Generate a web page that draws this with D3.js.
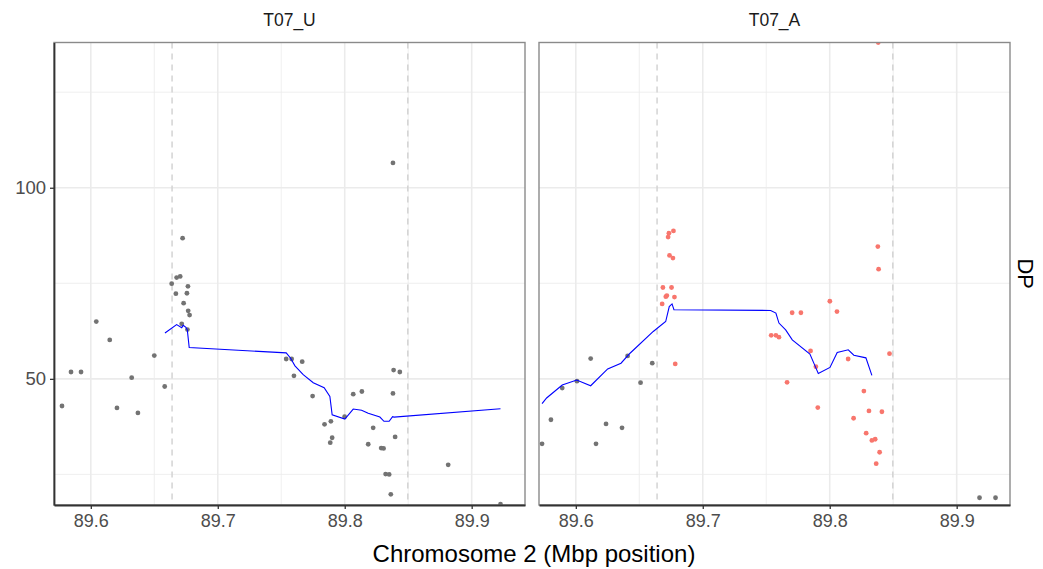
<!DOCTYPE html>
<html>
<head>
<meta charset="utf-8">
<script src="https://cdn.jsdelivr.net/npm/d3@7/dist/d3.min.js"></script>
<style>
  body { margin: 0; background: #fff; }
  text { font-family: "Liberation Sans", Arial, Helvetica, sans-serif; }
</style>
</head>
<body>
<div id="chart"></div>
<script>
// facets and axes
var facets = ["T07_U", "T07_A"];
var xTicks = [89.6, 89.7, 89.8, 89.9];
var xMinor = [89.65, 89.75, 89.85];
var yTicks = [50, 100];
var yMinor = [25, 75, 125];
var regionBounds = [89.664, 89.8497];

// T07_U points (Mbp, DP)
var uPos = [89.5773, 89.5844, 89.5923, 89.6043, 89.6149, 89.6206, 89.6322, 89.6371, 89.6500, 89.6582,
            89.6637, 89.6723, 89.6676, 89.6704, 89.6765, 89.6670, 89.6757, 89.6731, 89.6767, 89.6778,
            89.6716, 89.6761, 89.7539, 89.7582, 89.7665, 89.7600, 89.7747, 89.7841, 89.7891, 89.7901,
            89.7886, 89.7999, 89.8067, 89.8135, 89.8224, 89.8185, 89.8287, 89.8306, 89.8380, 89.8385,
            89.8434, 89.8397, 89.8322, 89.8350, 89.8363, 89.8815, 89.9227, 89.8380];
var uDP  = [42.9, 51.8, 51.8, 65.0, 60.2, 42.4, 50.3, 41.1, 56.1, 48.0,
            74.9, 86.8, 76.5, 76.8, 74.2, 72.3, 72.4, 69.8, 67.8, 66.7,
            64.4, 62.9, 55.2, 55.2, 54.5, 50.8, 45.5, 38.1, 38.9, 34.6,
            33.3, 40.1, 46.0, 46.7, 37.2, 32.9, 31.9, 31.8, 46.2, 52.3,
            51.8, 34.8, 25.1, 25.0, 19.8, 27.5, 17.2, 106.5];

// T07_A points (Mbp, DP)
var aPos = [89.5734, 89.5804, 89.5893, 89.6009, 89.6117, 89.6159, 89.6238, 89.6364, 89.6408, 89.6510,
            89.6602, 89.9180, 89.9306,
            89.6727, 89.6733, 89.6769, 89.6738, 89.6765, 89.6686, 89.6754, 89.6709, 89.6717, 89.6777,
            89.6680, 89.6783, 89.7539, 89.7576, 89.7600, 89.7704, 89.7773, 89.8001, 89.8057, 89.7849,
            89.7891, 89.7664, 89.7906, 89.8145, 89.8471, 89.8269, 89.8309, 89.8411, 89.8188, 89.8287,
            89.8332, 89.8358, 89.8393, 89.8366, 89.8379, 89.8385, 89.8382];
var aDP  = [33.0, 39.3, 47.6, 49.4, 55.3, 33.0, 38.2, 37.2, 56.0, 49.0,
            54.1, 18.9, 18.9,
            87.1, 88.1, 88.7, 82.3, 81.6, 73.9, 73.9, 71.5, 71.8, 71.4,
            69.6, 53.9, 61.4, 61.4, 60.9, 67.3, 67.3, 70.3, 67.6, 57.3,
            53.2, 49.1, 42.5, 55.2, 56.6, 46.8, 41.6, 41.4, 39.7, 35.8,
            33.9, 34.2, 30.8, 27.8, 84.6, 78.7, 138.0];

// smoothed lines
var uLinePos = [89.6584, 89.6676, 89.6716, 89.6728, 89.6749, 89.6760, 89.6775, 89.7539, 89.7574, 89.7608,
                89.7673, 89.7752, 89.7838, 89.7883, 89.7901, 89.8001, 89.8067, 89.8133, 89.8185, 89.8277,
                89.8309, 89.8350, 89.8377, 89.8388, 89.9227];
var uLineDP  = [62.0, 64.2, 63.4, 64.0, 63.5, 62.8, 58.2, 56.8, 55.4, 53.4,
                51.1, 49.0, 47.7, 45.4, 40.6, 39.5, 42.1, 41.8, 41.0, 40.0,
                38.9, 38.9, 40.1, 40.0, 42.2];
var aLinePos = [89.5734, 89.5770, 89.5893, 89.6007, 89.6117, 89.6251, 89.6356, 89.6427, 89.6610, 89.6708,
                89.6736, 89.6758, 89.6773, 89.7535, 89.7576, 89.7600, 89.7653, 89.7705, 89.7844, 89.7884,
                89.7910, 89.8002, 89.8059, 89.8146, 89.8190, 89.8285, 89.8332];
var aLineDP  = [43.5, 45.0, 48.4, 49.7, 48.2, 52.6, 54.1, 56.7, 62.4, 65.0,
                68.9, 69.6, 68.1, 67.9, 67.2, 64.6, 62.8, 60.2, 56.5, 53.4,
                51.4, 53.0, 56.9, 57.6, 56.2, 55.5, 50.9];

var width = 1043, height = 569;
var panelTop = 42.5, panelBottom = 505, panelW = 471;
var panelLeft = [54, 539];

var pointsByFacet = [
  uPos.map(function(d, i) { return {x: d, y: uDP[i], hl: false}; }),
  aPos.map(function(d, i) {
    return {x: d, y: aDP[i], hl: d >= regionBounds[0] && d <= regionBounds[1]};
  })
];
var linesByFacet = [
  uLinePos.map(function(d, i) { return [d, uLineDP[i]]; }),
  aLinePos.map(function(d, i) { return [d, aLineDP[i]]; })
];

var svg = d3.select("#chart").append("svg")
  .attr("width", width)
  .attr("height", height);

var y = d3.scaleLinear().domain([17, 138]).range([panelBottom, panelTop]);

facets.forEach(function(name, fi) {
  var x0 = panelLeft[fi];
  var x = d3.scaleLinear().domain([89.571, 89.942]).range([x0, x0 + panelW]);
  var g = svg.append("g");

  g.append("clipPath").attr("id", "clip" + fi)
    .append("rect")
    .attr("x", x0).attr("y", panelTop)
    .attr("width", panelW).attr("height", panelBottom - panelTop);

  // minor grid
  g.selectAll(".xminor").data(xMinor).enter().append("line")
    .attr("x1", function(d) { return x(d); }).attr("x2", function(d) { return x(d); })
    .attr("y1", panelTop).attr("y2", panelBottom)
    .attr("stroke", "#ebebeb").attr("stroke-width", 0.8);
  g.selectAll(".yminor").data(yMinor).enter().append("line")
    .attr("y1", function(d) { return y(d); }).attr("y2", function(d) { return y(d); })
    .attr("x1", x0).attr("x2", x0 + panelW)
    .attr("stroke", "#ebebeb").attr("stroke-width", 0.8);
  // major grid
  g.selectAll(".xmajor").data(xTicks).enter().append("line")
    .attr("x1", function(d) { return x(d); }).attr("x2", function(d) { return x(d); })
    .attr("y1", panelTop).attr("y2", panelBottom)
    .attr("stroke", "#ebebeb").attr("stroke-width", 1.6);
  g.selectAll(".ymajor").data(yTicks).enter().append("line")
    .attr("y1", function(d) { return y(d); }).attr("y2", function(d) { return y(d); })
    .attr("x1", x0).attr("x2", x0 + panelW)
    .attr("stroke", "#ebebeb").attr("stroke-width", 1.6);

  // region bounds
  g.selectAll(".bound").data(regionBounds).enter().append("line")
    .attr("x1", function(d) { return x(d); }).attr("x2", function(d) { return x(d); })
    .attr("y1", panelTop).attr("y2", panelBottom)
    .attr("stroke", "#d3d3d3").attr("stroke-width", 1.5)
    .attr("stroke-dasharray", "6,5");

  var clipped = g.append("g").attr("clip-path", "url(#clip" + fi + ")");

  clipped.selectAll("circle").data(pointsByFacet[fi]).enter().append("circle")
    .attr("cx", function(d) { return x(d.x); })
    .attr("cy", function(d) { return y(d.y); })
    .attr("r", 2.4)
    .attr("fill", function(d) { return d.hl ? "#F8766D" : "#737373"; });

  clipped.append("path")
    .datum(linesByFacet[fi])
    .attr("fill", "none")
    .attr("stroke", "#0000ff")
    .attr("stroke-width", 1.1)
    .attr("d", d3.line()
      .x(function(d) { return x(d[0]); })
      .y(function(d) { return y(d[1]); }));

  // panel border
  g.append("rect")
    .attr("x", x0).attr("y", panelTop)
    .attr("width", panelW).attr("height", panelBottom - panelTop)
    .attr("fill", "none").attr("stroke", "#8a8a8a").attr("stroke-width", 1.4);

  // x axis
  var xAxis = g.append("g")
    .attr("transform", "translate(0," + panelBottom + ")")
    .call(d3.axisBottom(x).tickValues(xTicks).tickSize(4).tickSizeOuter(0)
      .tickPadding(5).tickFormat(d3.format(".1f")));
  xAxis.select(".domain").attr("stroke", "#333").attr("stroke-width", 1.8);
  xAxis.selectAll(".tick line").attr("stroke", "#333").attr("stroke-width", 1.3);
  xAxis.selectAll(".tick text").attr("fill", "#4d4d4d").attr("font-size", 18)
    .attr("font-family", "Liberation Sans, Arial, sans-serif");

  // facet strip label
  g.append("text")
    .attr("x", x0 + panelW / 2).attr("y", 20)
    .attr("text-anchor", "middle").attr("dominant-baseline", "central")
    .attr("fill", "#1a1a1a").attr("font-size", 17.5)
    .text(name);

  if (fi === 0) {
    var yAxis = g.append("g")
      .attr("transform", "translate(" + x0 + ",0)")
      .call(d3.axisLeft(y).tickValues(yTicks).tickSize(4).tickSizeOuter(0).tickPadding(4));
    yAxis.select(".domain").attr("stroke", "#333").attr("stroke-width", 1.8);
    yAxis.selectAll(".tick line").attr("stroke", "#333").attr("stroke-width", 1.3);
    yAxis.selectAll(".tick text").attr("fill", "#4d4d4d").attr("font-size", 18.5)
      .attr("font-family", "Liberation Sans, Arial, sans-serif");
  }
});

// axis title
svg.append("text")
  .attr("x", (panelLeft[0] + panelLeft[1] + panelW) / 2 + 2).attr("y", 553)
  .attr("text-anchor", "middle").attr("dominant-baseline", "central")
  .attr("fill", "#000").attr("font-size", 24)
  .text("Chromosome 2 (Mbp position)");

// right strip label
svg.append("text")
  .attr("transform", "translate(1025," + (panelTop + panelBottom) / 2 + ") rotate(90)")
  .attr("text-anchor", "middle").attr("dominant-baseline", "central")
  .attr("fill", "#000").attr("font-size", 22)
  .text("DP");
</script>
</body>
</html>
